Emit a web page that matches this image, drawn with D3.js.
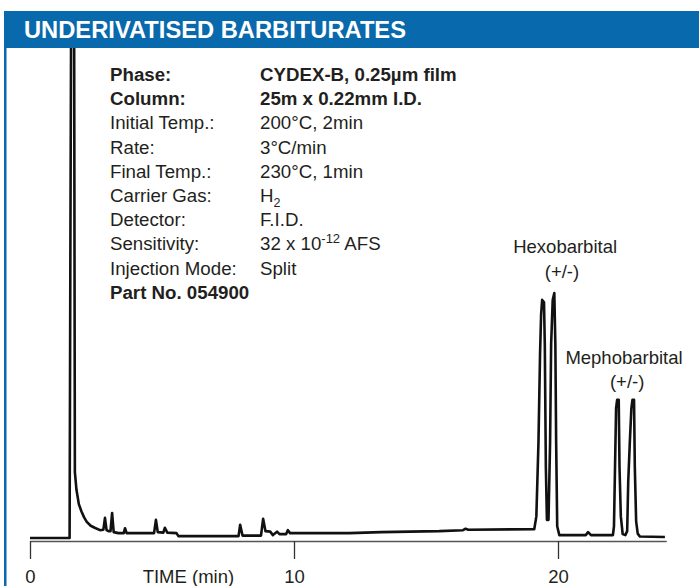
<!DOCTYPE html>
<html>
<head>
<meta charset="utf-8">
<script src="https://cdn.jsdelivr.net/npm/d3@7"></script>
<style>
  body { margin: 0; background: #fff; }
  svg text { font-family: "Liberation Sans", Arial, sans-serif; fill: #231f20; }
</style>
</head>
<body>
<div id="chart"></div>
<script>
// chromatogram trace: time (min) and detector signal (% of scale)
var traceTime = [0, 1.50, 1.53, 1.56, 1.67, 1.70, 1.76, 1.85, 1.95, 2.05, 2.15, 2.30, 2.45, 2.65, 2.78, 2.84, 2.90, 2.97, 3.05, 3.11, 3.17, 3.35, 3.55, 3.60, 3.66, 4.70, 4.77, 4.84, 5.05, 5.11, 5.20, 5.55, 5.62, 7.90, 7.96, 8.05, 8.75, 8.83, 8.92, 9.10, 9.20, 9.36, 9.45, 9.70, 9.77, 9.85, 12.1, 13.3, 15.5, 16.4, 16.5, 16.6, 19.1, 19.18, 19.26, 19.32, 19.36, 19.40, 19.47, 19.50, 19.54, 19.58, 19.64, 19.70, 19.74, 19.80, 19.86, 19.90, 19.93, 19.97, 20.05, 21.05, 21.14, 21.25, 22.08, 22.12, 22.16, 22.20, 22.24, 22.30, 22.33, 22.38, 22.45, 22.55, 22.62, 22.66, 22.72, 22.78, 22.82, 22.88, 22.91, 22.96, 23.02, 23.1, 24.05]
var traceSignal = [0.6, 0.6, 60, 110, 110, 14, 10.4, 7.5, 6.0, 4.8, 3.9, 3.1, 2.7, 2.2, 2.3, 4.7, 2.2, 2.0, 2.0, 5.7, 1.8, 1.6, 1.6, 2.6, 1.6, 1.6, 4.3, 1.8, 1.7, 2.7, 1.7, 1.6, 1.0, 1.0, 3.3, 1.1, 1.1, 4.5, 2.0, 1.9, 1.2, 1.9, 1.4, 1.4, 2.2, 1.6, 1.6, 1.8, 2.0, 2.2, 2.5, 2.3, 2.4, 5.0, 20, 38, 46, 49, 48.5, 40, 15, 4.3, 4.3, 20, 40, 49, 50.4, 40, 20, 3.0, 1.2, 1.2, 1.8, 1.2, 1.2, 3.0, 15, 27, 28.7, 28.7, 15, 5.0, 1.4, 1.2, 2.0, 12, 20, 27, 28.7, 28.7, 15, 4.0, 1.5, 0.9, 0.8]

var axisTicks = [0, 10, 20]
var axisTitle = "TIME (min)"
var chartTitle = "UNDERIVATISED BARBITURATES"

var methodKeys = ["Phase:", "Column:", "Initial Temp.:", "Rate:", "Final Temp.:", "Carrier Gas:", "Detector:", "Sensitivity:", "Injection Mode:", "Part No. 054900"]
var methodValues = ["CYDEX-B, 0.25µm film", "25m x 0.22mm I.D.", "200°C, 2min", "3°C/min", "230°C, 1min", "H|2", "F.I.D.", "32 x 10^-12^ AFS", "Split", ""]
var methodBold = [true, true, false, false, false, false, false, false, false, true]

// peak annotations, anchored in data units (time, signal level of the first line)
var peakNames = ["Hexobarbital", "Mephobarbital"]
var peakLabelTime = [20.27, 22.5]
var peakSubTime = [20.15, 22.62]
var peakLabelLevel = [58.5, 36.0]

var W = 699, H = 586
var blue = "#0869ad"

var svg = d3.select("#chart").append("svg")
    .attr("width", W)
    .attr("height", H)

var x = d3.scaleLinear()
    .domain([0, 24.1])
    .range([30, 30 + 24.1 * 26.4])

var y = d3.scaleLinear()
    .domain([0, 100])
    .range([541, 49])

svg.append("clipPath")
    .attr("id", "plot-clip")
  .append("rect")
    .attr("x", 0).attr("y", 48)
    .attr("width", W).attr("height", H - 48)

// trace
var points = traceTime.map(function(t, i){ return [t, traceSignal[i]] })

var line = d3.line()
    .x(function(d){ return x(d[0]) })
    .y(function(d){ return y(d[1]) })

svg.append("path")
    .datum(points)
    .attr("clip-path", "url(#plot-clip)")
    .attr("fill", "none")
    .attr("stroke", "#111")
    .attr("stroke-width", 2.6)
    .attr("stroke-linejoin", "round")
    .attr("d", line)

// axis
var xAxis = d3.axisBottom(x)
    .tickValues(axisTicks)
    .tickSize(18)
    .tickSizeOuter(0)
    .tickPadding(11)

var gx = svg.append("g")
    .attr("transform", "translate(0," + y(0) + ")")
    .call(xAxis)

gx.select(".domain").attr("stroke", "#555").attr("stroke-width", 1.5)
gx.selectAll(".tick line").attr("stroke", "#333").attr("stroke-width", 1.3)
gx.selectAll(".tick text")
    .attr("font-family", "Liberation Sans, Arial, sans-serif")
    .attr("font-size", 18.5)
    .attr("fill", "#231f20")

svg.append("text")
    .attr("x", x(6))
    .attr("y", 583)
    .attr("text-anchor", "middle")
    .attr("font-size", 18.5)
    .text(axisTitle)

// peak labels
peakNames.forEach(function(name, i){
    var ly = y(peakLabelLevel[i])
    svg.append("text")
        .attr("x", x(peakLabelTime[i]))
        .attr("y", ly)
        .attr("text-anchor", "middle")
        .attr("font-size", 18.5)
        .text(name)
    svg.append("text")
        .attr("x", x(peakSubTime[i]))
        .attr("y", ly + 24.5)
        .attr("text-anchor", "middle")
        .attr("font-size", 18.5)
        .text("(+/-)")
})

// method block
var block = svg.append("g")
methodKeys.forEach(function(k, i){
    var yy = 81 + i * 24.2
    block.append("text")
        .attr("x", 110)
        .attr("y", yy)
        .attr("font-size", 18.7)
        .attr("font-weight", methodBold[i] ? "bold" : "normal")
        .text(k)

    var v = methodValues[i]
    if (!v) return
    var t = block.append("text")
        .attr("x", 260)
        .attr("y", yy)
        .attr("font-size", 18.7)
        .attr("font-weight", methodBold[i] ? "bold" : "normal")
    if (v.indexOf("|") >= 0) {
        // subscript
        var parts = v.split("|")
        t.append("tspan").text(parts[0])
        t.append("tspan").attr("dy", 5).attr("font-size", 12.5).text(parts[1])
    } else if (v.indexOf("^") >= 0) {
        // superscript
        var parts2 = v.split("^")
        t.append("tspan").text(parts2[0])
        t.append("tspan").attr("dy", -7).attr("font-size", 13).text(parts2[1])
        t.append("tspan").attr("dy", 7).text(parts2[2])
    } else {
        t.text(v)
    }
})

// header bar + left rule
svg.append("rect")
    .attr("x", 4).attr("y", 11)
    .attr("width", W - 4).attr("height", 37)
    .attr("fill", blue)

svg.append("rect")
    .attr("x", 4).attr("y", 48)
    .attr("width", 2.5).attr("height", H - 48)
    .attr("fill", blue)

svg.append("text")
    .attr("x", 24)
    .attr("y", 37.5)
    .attr("font-family", "Roboto, Liberation Sans Narrow, sans-serif")
    .attr("font-weight", "bold")
    .attr("font-size", 23)
    .attr("textLength", 382)
    .attr("lengthAdjust", "spacingAndGlyphs")
    .style("fill", "#fff")
    .text(chartTitle)
</script>
</body>
</html>
